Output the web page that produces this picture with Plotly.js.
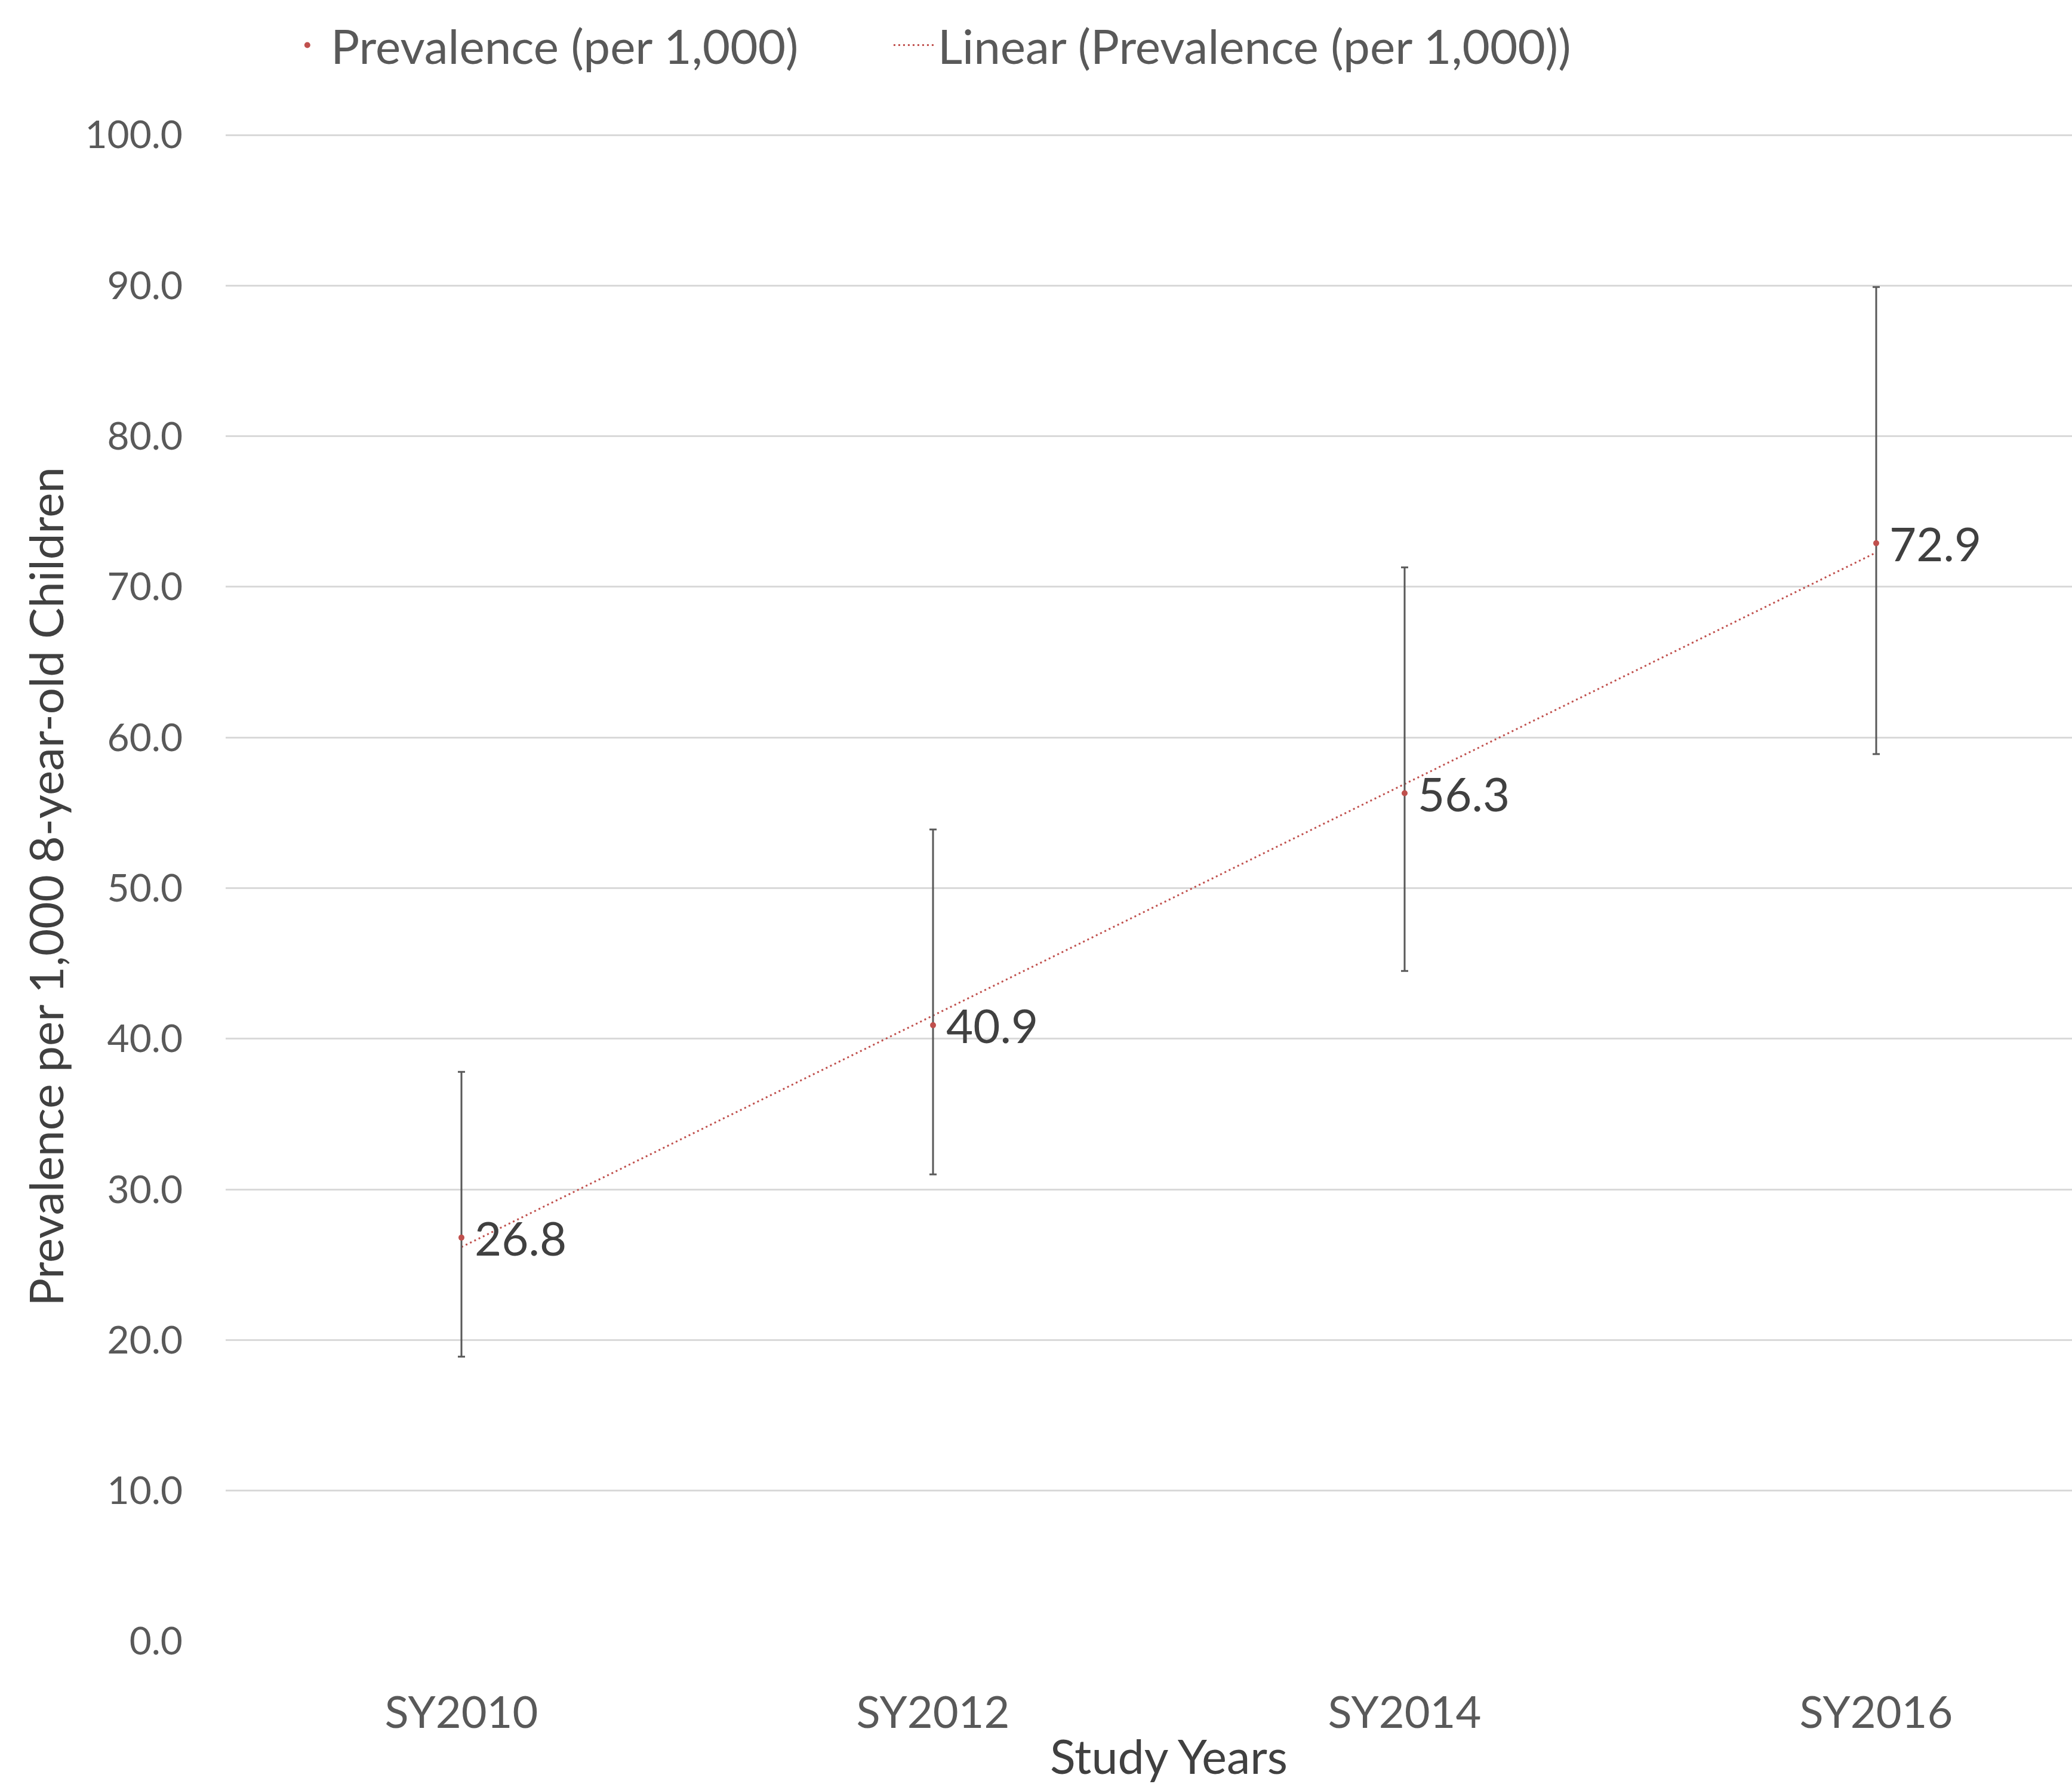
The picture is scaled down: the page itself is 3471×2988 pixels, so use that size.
<!DOCTYPE html>
<html>
<head>
<meta charset="utf-8">
<script src="https://cdn.plot.ly/plotly-3.0.1.min.js"></script>
<style>
html,body{margin:0;padding:0;background:#fff;overflow:hidden;width:3471px;height:2988px;}
#chart{width:3538px;height:2988px;}
</style>
</head>
<body>
<div id="chart"></div>
<script>
// ---- data ----
const studyYears = ["SY2010", "SY2012", "SY2014", "SY2016"];
const prevalence = [26.8, 40.9, 56.3, 72.9];
const ciUpper = [37.8, 53.9, 71.3, 89.9];
const ciLower = [18.9, 31.0, 44.5, 58.9];
const yTickValues = [0, 10, 20, 30, 40, 50, 60, 70, 80, 90, 100];

// linear trendline (least squares on category index, as the spreadsheet does)
const idx = studyYears.map((_, i) => i + 1);
const n = idx.length;
const mx = idx.reduce((a, b) => a + b, 0) / n;
const my = prevalence.reduce((a, b) => a + b, 0) / n;
let sxy = 0, sxx = 0;
for (let i = 0; i < n; i++) { sxy += (idx[i] - mx) * (prevalence[i] - my); sxx += (idx[i] - mx) ** 2; }
const slope = sxy / sxx, intercept = my - slope * mx;
const trendX = [studyYears[0], studyYears[n - 1]];
const trendY = [intercept + slope * idx[0], intercept + slope * idx[n - 1]];

const FONT = "Lato, 'Open Sans', sans-serif";
const red = "#C0504D";

const traces = [
  {
    type: "scatter", mode: "lines", name: "Linear (Prevalence (per 1,000))",
    legend: "legend2",
    x: trendX, y: trendY,
    line: {color: red, width: 3, dash: "3px,5px"}
  },
  {
    type: "scatter", mode: "markers", name: "Prevalence (per 1,000)",
    legend: "legend",
    x: studyYears, y: prevalence,
    marker: {color: red, size: 10},
    error_y: {
      type: "data", symmetric: false,
      array: ciUpper.map((u, i) => u - prevalence[i]),
      arrayminus: prevalence.map((v, i) => v - ciLower[i]),
      color: "#595959", thickness: 3, width: 6
    },
    cliponaxis: false
  }
];

const labels = studyYears.map((c, i) => ({
  x: c, y: prevalence[i], xref: "x", yref: "y",
  text: prevalence[i].toFixed(1), showarrow: false,
  xanchor: "left", yanchor: "middle", xshift: 20, yshift: 0,
  font: {family: FONT, size: 78, color: "#404040"}
}));

const legendCommon = {
  orientation: "h", yanchor: "top", y: 1.0807, xanchor: "left",
  font: {family: FONT, size: 80, color: "#595959"},
  itemwidth: 69, bgcolor: "rgba(0,0,0,0)", borderwidth: 0
};

const layout = {
  width: 3538, height: 2988,
  paper_bgcolor: "#ffffff", plot_bgcolor: "#ffffff",
  margin: {l: 378, r: 0, t: 221, b: 239, pad: 0},
  font: {family: FONT, color: "#595959"},
  showlegend: true,
  legend: Object.assign({}, legendCommon, {x: 0.0308}),
  legend2: Object.assign({}, legendCommon, {x: 0.3525}),
  annotations: labels,
  xaxis: {
    type: "category", categoryorder: "array", categoryarray: studyYears,
    range: [-0.5, 3.5],
    showgrid: false, zeroline: false, showline: false, ticks: "",
    tickfont: {family: FONT, size: 74, color: "#595959"},
    ticklabelstandoff: 70,
    title: {text: "Study Years", font: {family: FONT, size: 79, color: "#404040"}, standoff: 34}
  },
  yaxis: {
    range: [0, 100.2], tickmode: "array", tickvals: yTickValues,
    ticktext: yTickValues.map(v => v.toFixed(1)),
    showgrid: true, gridcolor: "#D9D9D9", gridwidth: 3,
    zeroline: false, showline: false, ticks: "",
    tickfont: {family: FONT, size: 64, color: "#595959"},
    ticklabelstandoff: 71,
    title: {text: "Prevalence per 1,000 8-year-old Children", font: {family: FONT, size: 78, color: "#404040"}, standoff: 10}
  }
};

Plotly.newPlot("chart", traces, layout, {displayModeBar: false, staticPlot: true});
</script>
</body>
</html>
